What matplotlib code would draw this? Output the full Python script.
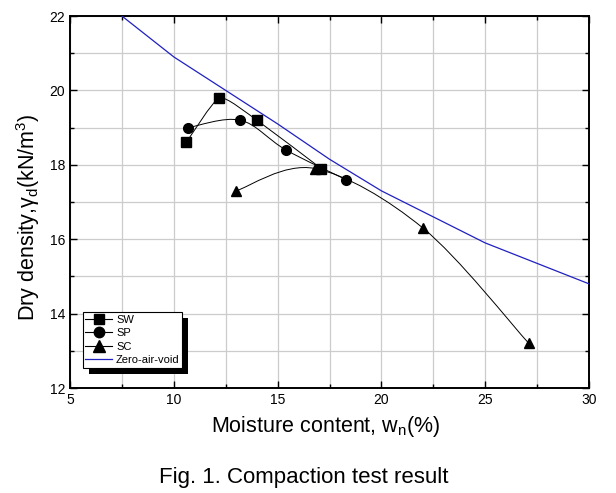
import numpy as np
import matplotlib
matplotlib.use('Agg')
import matplotlib.pyplot as plt
from matplotlib.path import Path
from matplotlib.patches import PathPatch
import matplotlib.patheffects as pe

plt.rcParams['font.family'] = ['Liberation Sans', 'DejaVu Sans']
plt.rcParams['mathtext.fontset'] = 'custom'
plt.rcParams['mathtext.rm'] = 'Liberation Sans'
plt.rcParams['mathtext.it'] = 'Liberation Sans'

# compaction test data
sw_w = [10.6, 12.2, 14.0, 17.1]
sw_d = [18.6, 19.8, 19.2, 17.9]
sp_w = [10.7, 13.2, 15.4, 18.3]
sp_d = [19.0, 19.2, 18.4, 17.6]
sc_w = [13.0, 16.8, 22.0, 27.1]
sc_d = [17.3, 17.9, 16.3, 13.2]

# zero-air-void curve
zav_w = [7.5, 10.0, 12.5, 15.0, 17.5, 20.0, 22.5, 25.0, 27.5, 30.0]
zav_d = [22.0, 20.9, 20.0, 19.1, 18.15, 17.3, 16.6, 15.9, 15.35, 14.8]


def smooth_path(xs, ys, k=1 / 6):
    """Catmull-Rom style spline through the points, as bezier path"""
    p = np.column_stack([xs, ys])
    verts = [p[0]]
    codes = [Path.MOVETO]
    n = len(p)
    for i in range(n - 1):
        p0 = p[i - 1] if i > 0 else p[i]
        p1 = p[i]
        p2 = p[i + 1]
        p3 = p[i + 2] if i + 2 < n else p[i + 1]
        verts += [p1 + (p2 - p0) * k, p2 - (p3 - p1) * k, p2]
        codes += [Path.CURVE4] * 3
    return Path(verts, codes)


fig = plt.figure(figsize=(6.16, 4.93), dpi=100)
ax = fig.add_axes([70 / 616, 1 - 388 / 493, 519 / 616, 372 / 493])

for xs, ys, m, ms, k, lab in [(sw_w, sw_d, 's', 6.5, 0.09, 'SW'),
                              (sp_w, sp_d, 'o', 7, 1 / 6, 'SP'),
                              (sc_w, sc_d, '^', 7.5, 1 / 6, 'SC')]:
    ax.add_patch(PathPatch(smooth_path(xs, ys, k), fill=False,
                           edgecolor='black', lw=0.7, zorder=3))
    ax.plot(xs, ys, ls='none', marker=m, ms=ms, color='black', zorder=4)
    # legend proxy
    ax.plot([], [], color='black', lw=0.8, marker=m, ms=ms + 0.5, label=lab)

ax.plot(zav_w, zav_d, color='#2020c0', lw=0.9, label='Zero-air-void', zorder=3)

ax.set_xlim(5, 30)
ax.set_ylim(12, 22)
ax.set_xticks([5, 10, 15, 20, 25, 30])
ax.set_xticks([7.5, 12.5, 17.5, 22.5, 27.5], minor=True)
ax.set_yticks([12, 14, 16, 18, 20, 22])
ax.set_yticks([13, 15, 17, 19, 21], minor=True)
ax.grid(True, which='both', color='#cccccc', lw=0.9)
ax.set_axisbelow(True)
ax.tick_params(which='both', direction='in', top=True, right=True,
               labelsize=10, width=1.0)
ax.tick_params(which='major', length=5)
ax.tick_params(which='minor', length=3)
for s in ax.spines.values():
    s.set_linewidth(1.4)

leg = ax.legend(loc='lower left', bbox_to_anchor=(0.0245, 0.0546),
                fontsize=8, frameon=True, fancybox=False, framealpha=1,
                edgecolor='black', borderpad=0.25, labelspacing=0.3,
                handlelength=2.4, handletextpad=0.35, borderaxespad=0)
leg.get_frame().set_linewidth(0.8)
leg.get_frame().set_path_effects([
    pe.SimplePatchShadow(offset=(4.3, -4.3), shadow_rgbFace='black', alpha=1),
    pe.Normal()])

fig.text(28 / 616, 1 - 217 / 493, r'Dry density,$\gamma_{\rm d}$(kN/m$^3$)',
         rotation=90, ha='center', va='center', fontsize=15.5)
fig.text(326 / 616, 1 - 432 / 493, r'Moisture content, w$_{\rm n}$(%)',
         ha='center', va='baseline', fontsize=15.5)
fig.text(304 / 616, 1 - 483 / 493, 'Fig. 1. Compaction test result',
         ha='center', va='baseline', fontsize=16)

fig.savefig('out.png', dpi=100)
